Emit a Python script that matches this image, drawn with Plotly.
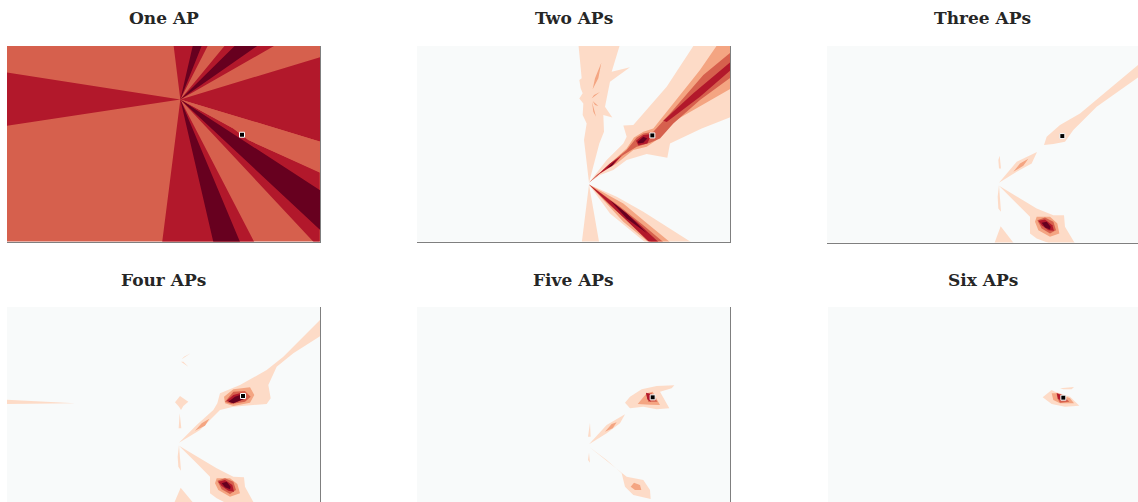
import plotly.graph_objects as go

# Contour-band outlines, in each panel's axis units.
COL_BASE = "#f8fafa"
COL_1 = "#fddbc7"
COL_2 = "#f4a582"
COL_3 = "#d6604d"
COL_4 = "#b2182b"
COL_5 = "#67001f"

titles = ["One AP", "Two APs", "Three APs", "Four APs", "Five APs", "Six APs"]
ap_x = [726, 727, 727, 729, 728, 730]
ap_y = [404, 406, 408, 408, 412, 413]

full = [[0, 0], [1200, 0], [1200, 800], [0, 800]]

one_l3 = [full]
one_l4 = [
    [[541, 298], [520, 130], [627, 130]],
    [[541, 298], [680, 130], [836, 130]],
    [[541, 298], [1000, 160], [1000, 438], [959, 424]],
    [[541, 298], [0, 214], [0, 380]],
    [[541, 298], [700, 385], [745, 420], [959, 516], [959, 800], [945, 730]],
    [[541, 298], [486, 730], [765, 730]],
]
one_l3b = [
    [[541, 298], [700, 385], [745, 420], [959, 516], [1000, 536], [1000, 410], [959, 424]],
]
one_l5 = [
    [[541, 298], [580, 130], [608, 130]],
    [[541, 298], [712, 130], [783, 130]],
    [[541, 298], [730, 420], [760, 440], [959, 570], [1000, 598], [1000, 726], [959, 688]],
    [[541, 298], [641, 730], [722, 730]],
]

two_l1 = [
    [[505, 130], [515, 235], [508, 240], [512, 265], [518, 280], [508, 295], [520, 310], [518, 345],
     [530, 370], [522, 420], [537, 548], [568, 430], [582, 395], [580, 345], [607, 352], [585, 320],
     [600, 245], [660, 202], [605, 215], [631, 130]],
    [[537, 548], [590, 480], [640, 430], [650, 410], [640, 376], [670, 375], [700, 340], [770, 260],
     [850, 138], [1000, 130], [1000, 340], [959, 352], [875, 385], [780, 430], [772, 473], [710, 462],
     [650, 480], [610, 510], [570, 525]],
    [[537, 553], [515, 730], [568, 730]],
    [[537, 553], [620, 590], [700, 635], [850, 730], [710, 730], [600, 640]],
]
two_l2 = [
    [[574, 188], [565, 235], [548, 268], [555, 235]],
    [[570, 276], [545, 295], [552, 285]],
    [[546, 305], [558, 350], [550, 335]],
    [[548, 303], [565, 318], [555, 315]],
    [[537, 548], [600, 490], [650, 445], [672, 412], [700, 395], [730, 385], [790, 310], [870, 210],
     [925, 130], [1000, 130], [1000, 240], [959, 268], [780, 370], [740, 420], [710, 440], [670, 450],
     [620, 490], [570, 520]],
    [[537, 553], [640, 610], [700, 660], [785, 730], [720, 730], [640, 665]],
]
two_l3 = [
    [[537, 548], [600, 490], [650, 450], [680, 412], [700, 400], [730, 395], [780, 340], [880, 225],
     [959, 160], [1000, 130], [1000, 210], [959, 235], [870, 300], [790, 370], [750, 415], [720, 428],
     [680, 440], [640, 465], [600, 495], [560, 525]],
    [[537, 553], [630, 620], [700, 675], [765, 730], [728, 730], [660, 670], [600, 615]],
]
two_l4 = [
    [[760, 362], [850, 280], [959, 188], [1000, 160], [1000, 190], [959, 213], [870, 290], [770, 366]],
    [[678, 422], [700, 405], [725, 402], [712, 430], [685, 436]],
    [[537, 548], [600, 490], [635, 467], [610, 495], [570, 520]],
    [[537, 553], [620, 615], [680, 665], [750, 730], [722, 730], [670, 680], [600, 615]],
]
two_l5 = [
    [[683, 425], [700, 410], [712, 415], [700, 428], [685, 430]],
    [[590, 505], [620, 478], [605, 498]],
    [[600, 600], [650, 640], [712, 700], [650, 655]],
]

three_l1 = [
    [[672, 435], [680, 410], [720, 375], [780, 340], [960, 190], [960, 228], [830, 320], [760, 390],
     [735, 425], [700, 432]],
    [[537, 548], [590, 485], [651, 456], [635, 490], [590, 515]],
    [[539, 467], [543, 505], [537, 505], [535, 480]],
    [[537, 555], [543, 635], [535, 625], [533, 590]],
    [[537, 557], [590, 590], [650, 625], [700, 645], [732, 645], [735, 680], [765, 730], [690, 730],
     [650, 715], [630, 700], [630, 650], [590, 610]],
    [[542, 678], [582, 730], [523, 730]],
    [[566, 280], [548, 294], [553, 288]],
    [[545, 303], [557, 311], [550, 308]],
]
three_l2 = [
    [[580, 515], [600, 490], [625, 476], [610, 497]],
    [[650, 650], [690, 650], [712, 670], [718, 700], [690, 710], [655, 690], [645, 665]],
]
three_l3 = [[[652, 660], [675, 652], [700, 665], [708, 690], [690, 700], [665, 685]]]
three_l4 = [[[655, 662], [675, 658], [697, 675], [702, 692], [685, 690], [665, 675]]]
three_l5 = [[[665, 668], [680, 665], [692, 680], [690, 688], [675, 682]]]

four_l1 = [
    [[0, 418], [225, 430], [0, 432]],
    [[295, 429], [345, 430], [295, 431]],
    [[525, 427], [540, 408], [565, 425], [550, 438], [543, 450], [537, 440]],
    [[539, 460], [544, 505], [536, 505]],
    [[537, 555], [543, 632], [535, 620], [533, 590]],
    [[537, 548], [590, 495], [640, 450], [652, 430], [660, 400], [720, 375], [800, 330], [850, 290],
     [970, 170], [970, 222], [880, 280], [830, 320], [805, 375], [812, 415], [800, 432], [700, 440],
     [660, 450], [630, 480], [600, 510]],
    [[537, 557], [590, 590], [650, 625], [700, 650], [732, 652], [735, 680], [765, 735], [690, 735],
     [650, 715], [630, 700], [630, 650], [590, 610]],
    [[542, 683], [585, 735], [520, 735]],
    [[556, 262], [545, 298], [548, 285]],
    [[572, 280], [545, 298], [552, 290]],
    [[543, 305], [565, 320], [550, 305]],
]
four_l2 = [
    [[585, 512], [605, 490], [628, 476], [615, 497]],
    [[672, 410], [700, 388], [750, 382], [763, 405], [750, 428], [700, 438], [675, 430]],
    [[650, 655], [690, 655], [712, 672], [720, 700], [690, 710], [655, 690], [645, 670]],
]
four_l3 = [
    [[675, 425], [700, 395], [735, 393], [752, 410], [735, 425], [695, 432]],
    [[652, 662], [675, 655], [700, 665], [708, 690], [690, 702], [665, 688]],
]
four_l4 = [
    [[680, 422], [700, 405], [725, 398], [738, 415], [700, 430]],
    [[655, 665], [675, 660], [697, 675], [702, 695], [685, 692], [665, 678]],
]
four_l5 = [
    [[685, 425], [705, 410], [735, 400], [730, 418], [700, 430]],
    [[665, 670], [680, 665], [692, 680], [690, 688], [675, 682]],
]

five_l1 = [
    [[645, 428], [660, 410], [695, 388], [740, 378], [793, 376], [785, 385], [750, 395], [778, 445],
     [740, 448], [700, 440], [660, 445]],
    [[537, 553], [590, 495], [645, 463], [630, 490], [590, 520]],
    [[540, 488], [542, 530], [534, 530]],
    [[537, 578], [540, 608], [534, 600]],
    [[537, 560], [600, 610], [650, 650], [700, 660], [720, 690], [722, 717], [670, 705], [645, 680],
     [635, 640], [590, 600]],
    [[867, 575], [907, 552], [880, 570]],
]
five_l2 = [
    [[585, 515], [605, 492], [620, 487], [608, 505]],
    [[662, 680], [672, 668], [690, 675], [694, 690], [675, 690]],
    [[683, 432], [710, 400], [728, 395], [750, 435], [720, 434]],
]
five_l3 = [[[708, 400], [725, 400], [742, 425], [715, 425]]]
five_l4 = [[[708, 398], [720, 402], [722, 425], [712, 418]]]

six_l1 = [
    [[668, 412], [695, 390], [705, 395], [750, 410], [778, 437], [735, 440], [695, 432]],
    [[720, 385], [762, 381], [755, 388], [730, 388]],
]
six_l2 = [[[695, 400], [712, 400], [750, 415], [762, 430], [720, 430], [700, 420]]]
six_l3 = [[[710, 400], [725, 403], [748, 425], [720, 428], [712, 415]]]
six_l4 = [[[710, 400], [722, 405], [722, 422], [714, 415]]]

panels = [
    [(COL_3, one_l3), (COL_4, one_l4), (COL_3, one_l3b), (COL_5, one_l5)],
    [(COL_BASE, [full]), (COL_1, two_l1), (COL_2, two_l2), (COL_3, two_l3), (COL_4, two_l4), (COL_5, two_l5)],
    [(COL_BASE, [full]), (COL_1, three_l1), (COL_2, three_l2), (COL_3, three_l3), (COL_4, three_l4), (COL_5, three_l5)],
    [(COL_BASE, [full]), (COL_1, four_l1), (COL_2, four_l2), (COL_3, four_l3), (COL_4, four_l4), (COL_5, four_l5)],
    [(COL_BASE, [full]), (COL_1, five_l1), (COL_2, five_l2), (COL_3, five_l3), (COL_4, five_l4)],
    [(COL_BASE, [full]), (COL_1, six_l1), (COL_2, six_l2), (COL_3, six_l3), (COL_4, six_l4)],
]

W, H = 1138, 502
x_px = [(7, 320), (417, 730), (827, 1138), (7, 320), (417, 730), (828, 1138)]
y_px = [(46, 241.5), (46, 241.5), (46, 242.5), (307, 502), (307, 502), (307, 502)]
x_rng = [(21, 960), (21, 960), (21, 954), (21, 960), (21, 960), (24, 954)]
y_rng = [(724, 138), (724, 138), (727, 138), (726, 141), (726, 141), (726, 141)]
title_y = [18, 18, 18, 280, 280, 280]
show_right = [True, True, False, True, True, False]
show_bottom = [True, True, True, False, False, False]

fig = go.Figure()
layout = {}
annotations = []
for i, bands in enumerate(panels):
    n = "" if i == 0 else str(i + 1)
    for colour, polys in bands:
        xs, ys = [], []
        for poly in polys:
            xs += [p[0] for p in poly] + [poly[0][0], None]
            ys += [p[1] for p in poly] + [poly[0][1], None]
        fig.add_trace(go.Scatter(x=xs, y=ys, xaxis="x" + n, yaxis="y" + n, mode="lines",
                                 fill="toself", fillcolor=colour, line=dict(width=0),
                                 hoverinfo="skip", showlegend=False))
    fig.add_trace(go.Scatter(x=[ap_x[i]], y=[ap_y[i]], xaxis="x" + n, yaxis="y" + n, mode="markers",
                             marker=dict(symbol="square", size=5, color="black",
                                         line=dict(color="white", width=1)),
                             hoverinfo="skip", showlegend=False))
    layout["xaxis" + n] = dict(domain=[x_px[i][0] / W, x_px[i][1] / W], range=list(x_rng[i]),
                               anchor="y" + n, showgrid=False, zeroline=False, showticklabels=False,
                               ticks="", showline=show_bottom[i], linecolor="#7f7f7f", linewidth=1)
    layout["yaxis" + n] = dict(domain=[1 - y_px[i][1] / H, 1 - y_px[i][0] / H], range=list(y_rng[i]),
                               anchor="x" + n, side="right", showgrid=False, zeroline=False,
                               showticklabels=False, ticks="", showline=show_right[i],
                               linecolor="#7f7f7f", linewidth=1)
    annotations.append(dict(text="<b>%s</b>" % titles[i], xref="paper", yref="paper",
                            x=(sum(x_px[i]) / 2) / W, y=1 - title_y[i] / H, xanchor="center",
                            yanchor="middle", showarrow=False,
                            font=dict(family="DejaVu Serif", size=17, color="#262626")))

fig.update_layout(width=W, height=H, margin=dict(l=0, r=0, t=0, b=0), paper_bgcolor="white",
                  plot_bgcolor="white", annotations=annotations, **layout)
fig.write_html("out.html", config=dict(displayModeBar=False),
               post_script="document.body.style.margin='0';document.documentElement.style.overflow='hidden';")
